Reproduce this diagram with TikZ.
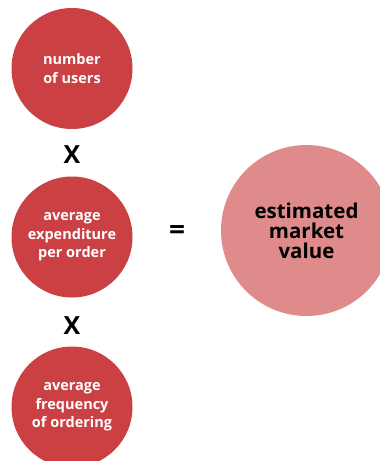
\documentclass[tikz,border=0pt]{standalone}
\usepackage{fontspec}
\setmainfont{Open Sans}[BoldFont={Open Sans Bold}]
\begin{document}
\begin{tikzpicture}[x=1pt,y=-1pt,
  factor/.style={circle,fill=factorred,minimum size=121pt,inner sep=0pt,
    text=white,align=center,font=\bfseries\fontsize{14.5}{18.5}\selectfont},
  result/.style={circle,fill=resultpink,minimum size=171pt,inner sep=0pt,
    text=black,align=center,font=\bfseries\fontsize{20.5}{20}\selectfont},
  operator/.style={inner sep=0pt,font=\bfseries\fontsize{25}{25}\selectfont}]
\definecolor{factorred}{RGB}{202,64,67}
\definecolor{resultpink}{RGB}{223,139,139}
\useasboundingbox (0,0) rectangle (380,461);
\clip (0,0) rectangle (380,461);
\fill[white] (0,0) rectangle (380,461);

\node[factor] (users) at (72,68.5) {number\\of users};
\node[operator] (times1) at (72,155) {X};
\node[factor] (spend) at (72,237) {average\\expenditure\\per order};
\node[operator] (times2) at (72,326) {X};
\node[factor] (freq) at (72,407) {average\\frequency\\of ordering};
\node[operator,font=\bfseries\fontsize{28}{28}\selectfont] (equals) at (177,232) {=};
\node[result] (market) at (306.5,230.5) {estimated\\market\\value};
\end{tikzpicture}
\end{document}
